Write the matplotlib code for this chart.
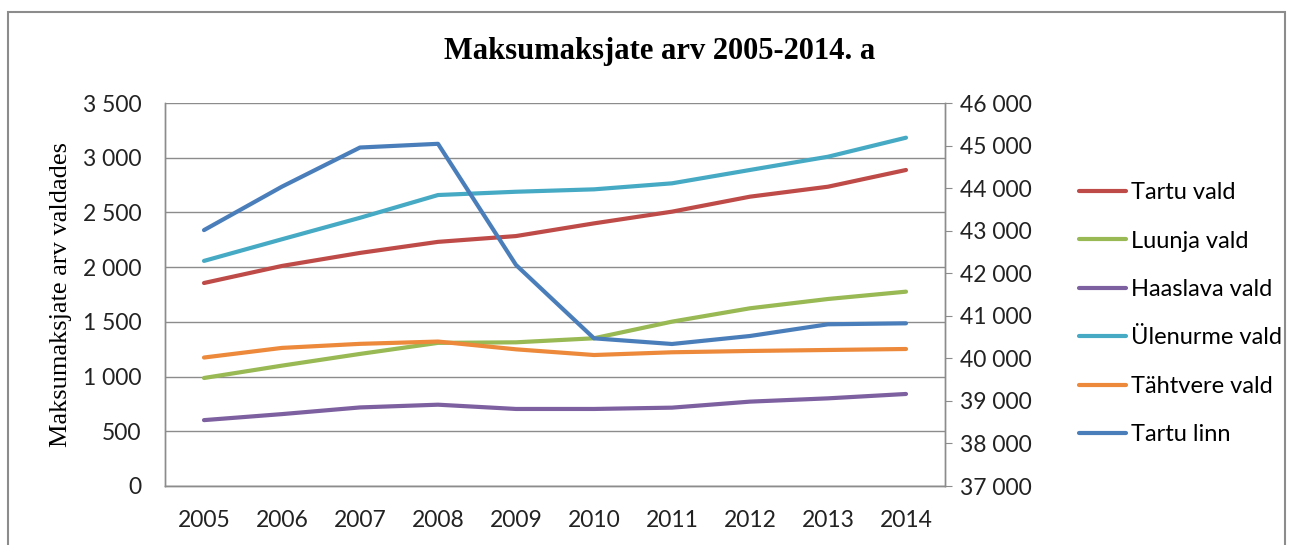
import numpy as np
import matplotlib.pyplot as plt
from matplotlib.ticker import FuncFormatter, MultipleLocator
from matplotlib.patches import Rectangle

aastad = ["2005", "2006", "2007", "2008", "2009", "2010", "2011", "2012", "2013", "2014"]

# vasak telg (vallad)
tartu_vald = [1855, 2011, 2130, 2231, 2284, 2400, 2507, 2644, 2735, 2888]
luunja_vald = [987, 1100, 1207, 1308, 1313, 1350, 1502, 1624, 1709, 1776]
haaslava_vald = [602, 657, 718, 743, 704, 704, 716, 771, 801, 841]
ylenurme_vald = [2057, 2255, 2451, 2659, 2689, 2711, 2766, 2888, 3009, 3183]
tahtvere_vald = [1174, 1262, 1299, 1320, 1249, 1197, 1222, 1234, 1243, 1252]
# parem telg (linn)
tartu_linn = [43013, 44035, 44954, 45041, 42194, 40470, 40337, 40525, 40800, 40823]

nimed = ["Tartu vald", "Luunja vald", "Haaslava vald", "Ülenurme vald", "Tähtvere vald", "Tartu linn"]
varvid = ["#BE4B48", "#98B954", "#7D60A0", "#46AAC5", "#EC893B", "#4A7EBB"]

tick_font = "Lato"
serif = "Liberation Serif"


def tuhanded(v, pos):
    return "{:,.0f}".format(v).replace(",", " ")


fig = plt.figure(figsize=(12.92, 5.45), dpi=100)
fig.patches.append(Rectangle((8 / 1292, -0.1), 1277 / 1292, 1.1 - 12 / 545,
                             transform=fig.transFigure, fill=False,
                             edgecolor="#8C8C8C", linewidth=1.5))

ax = fig.add_axes([165 / 1292, 1 - 486 / 545, 780 / 1292, 383 / 545])
ax2 = ax.twinx()

x = np.arange(len(aastad))
seeriad = [tartu_vald, luunja_vald, haaslava_vald, ylenurme_vald, tahtvere_vald]
jooned = []
for andmed, nimi, v in zip(seeriad, nimed[:5], varvid[:5]):
    j, = ax.plot(x, andmed, color=v, linewidth=3, solid_capstyle="round", label=nimi)
    jooned.append(j)
j, = ax2.plot(x, tartu_linn, color=varvid[5], linewidth=3, solid_capstyle="round", label=nimed[5])
jooned.append(j)

ax.set_xlim(-0.5, len(aastad) - 0.5)
ax.set_ylim(0, 3500)
ax2.set_ylim(37000, 46000)
ax.yaxis.set_major_locator(MultipleLocator(500))
ax2.yaxis.set_major_locator(MultipleLocator(1000))
ax.yaxis.set_major_formatter(FuncFormatter(tuhanded))
ax2.yaxis.set_major_formatter(FuncFormatter(tuhanded))

ax.set_xticks(x)
ax.set_xticklabels(aastad)
ax.grid(axis="y", color="#8C8C8C", linewidth=1)
ax.set_axisbelow(True)

for a in (ax, ax2):
    for s in a.spines.values():
        s.set_color("#8C8C8C")
        s.set_linewidth(1)
    a.spines["top"].set_visible(False)
ax.tick_params(axis="y", length=0, pad=17, labelsize=16.5)
ax.tick_params(axis="x", length=0, pad=17, labelsize=16.5)
ax2.tick_params(axis="y", length=5, color="#8C8C8C", pad=6, labelsize=16.5)
for lab in ax.get_xticklabels() + ax.get_yticklabels() + ax2.get_yticklabels():
    lab.set_fontfamily(tick_font)
    lab.set_color("#222222")

ax.set_ylabel("Maksumaksjate arv valdades", fontfamily=serif, fontsize=19, labelpad=8)
fig.text(660 / 1292, 1 - 52 / 545, "Maksumaksjate arv 2005-2014. a", ha="center", va="center",
         fontfamily=serif, fontsize=22, fontweight="bold")

leg = fig.legend(handles=jooned, labels=nimed, loc="upper left",
                 bbox_to_anchor=(1058 / 1292, 1 - 161 / 545), frameon=False,
                 prop={"family": tick_font, "size": 17}, handlelength=2.0,
                 handletextpad=0.2, labelspacing=1.16)

plt.savefig("out.png", dpi=100)
